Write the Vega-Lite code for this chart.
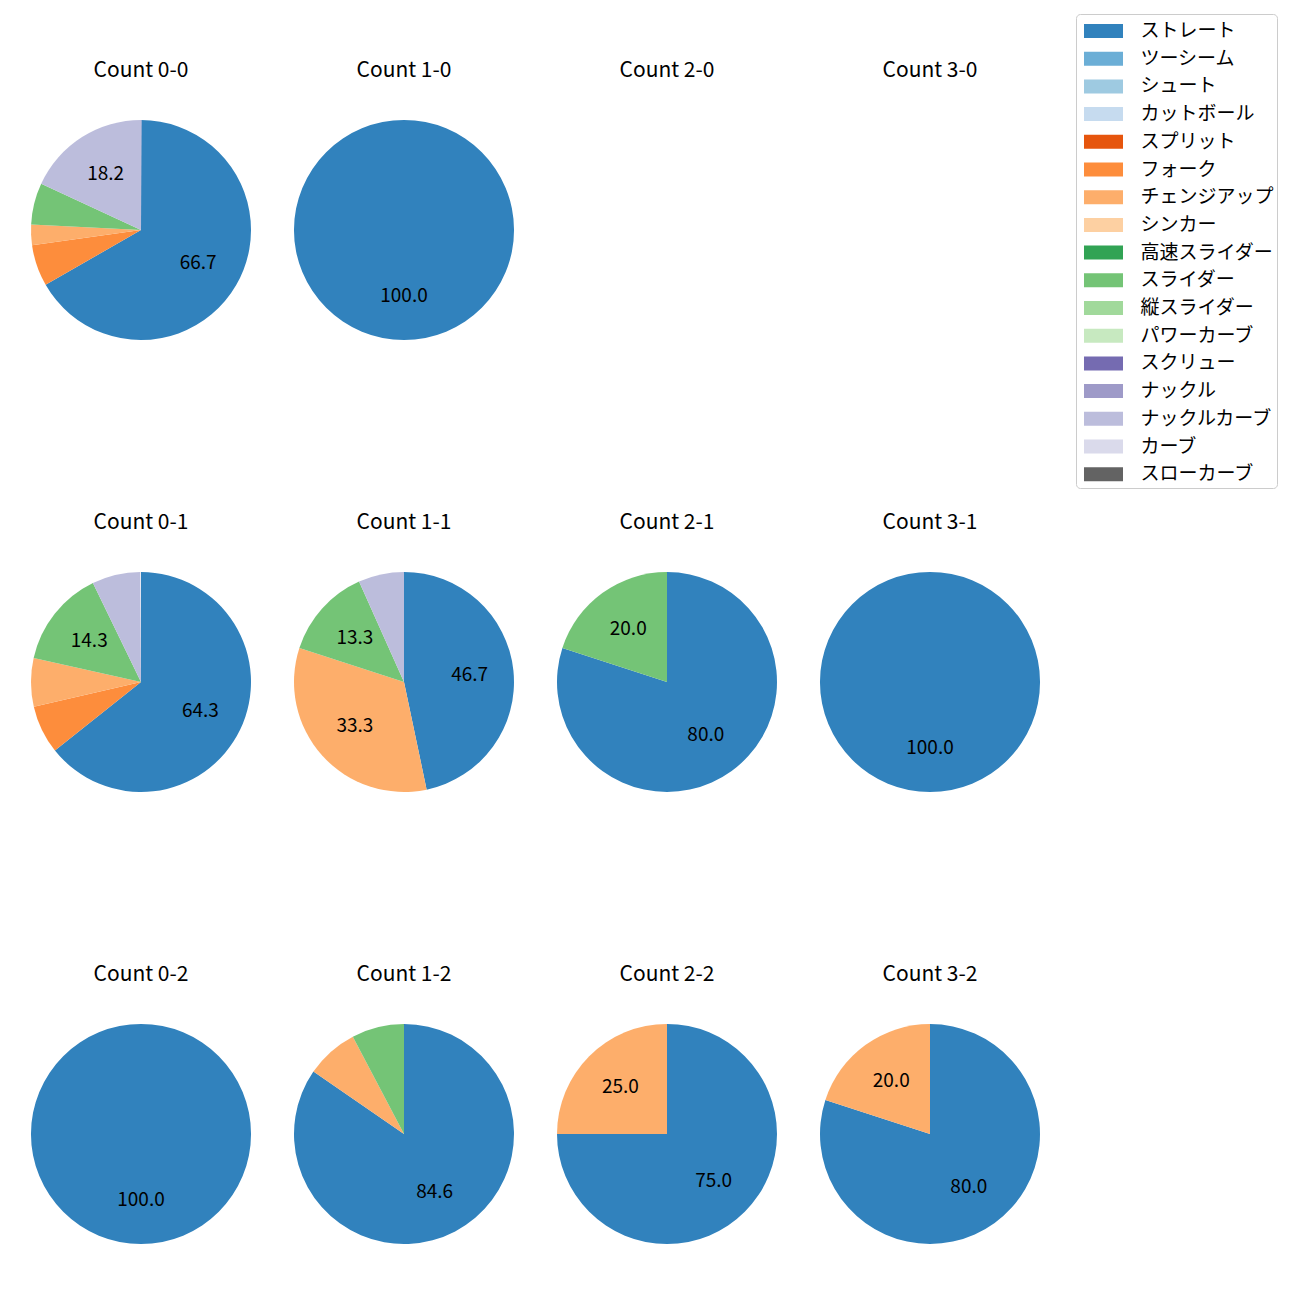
{
  "$schema": "https://vega.github.io/schema/vega-lite/v6.json",
  "padding": {"left": 21, "top": 13, "right": 0, "bottom": 0},
  "autosize": {"type": "pad"},
  "background": "white",
  "config": {"font": "Noto Sans CJK JP", "view": {"stroke": null}},
  "datasets": {
    "pitches": [
      {"pitch": "ストレート", "idx": 0},
      {"pitch": "ツーシーム", "idx": 1},
      {"pitch": "シュート", "idx": 2},
      {"pitch": "カットボール", "idx": 3},
      {"pitch": "スプリット", "idx": 4},
      {"pitch": "フォーク", "idx": 5},
      {"pitch": "チェンジアップ", "idx": 6},
      {"pitch": "シンカー", "idx": 7},
      {"pitch": "高速スライダー", "idx": 8},
      {"pitch": "スライダー", "idx": 9},
      {"pitch": "縦スライダー", "idx": 10},
      {"pitch": "パワーカーブ", "idx": 11},
      {"pitch": "スクリュー", "idx": 12},
      {"pitch": "ナックル", "idx": 13},
      {"pitch": "ナックルカーブ", "idx": 14},
      {"pitch": "カーブ", "idx": 15},
      {"pitch": "スローカーブ", "idx": 16}
    ],
    "counts": [
      {"count": "0-0", "pitch": "ストレート", "pct": 66.7},
      {"count": "0-0", "pitch": "フォーク", "pct": 6.1},
      {"count": "0-0", "pitch": "チェンジアップ", "pct": 3.0},
      {"count": "0-0", "pitch": "スライダー", "pct": 6.1},
      {"count": "0-0", "pitch": "ナックルカーブ", "pct": 18.2},
      {"count": "1-0", "pitch": "ストレート", "pct": 100.0},
      {"count": "2-0", "pitch": "ストレート", "pct": 0},
      {"count": "3-0", "pitch": "ストレート", "pct": 0},
      {"count": "0-1", "pitch": "ストレート", "pct": 64.3},
      {"count": "0-1", "pitch": "フォーク", "pct": 7.1},
      {"count": "0-1", "pitch": "チェンジアップ", "pct": 7.1},
      {"count": "0-1", "pitch": "スライダー", "pct": 14.3},
      {"count": "0-1", "pitch": "ナックルカーブ", "pct": 7.1},
      {"count": "1-1", "pitch": "ストレート", "pct": 46.7},
      {"count": "1-1", "pitch": "チェンジアップ", "pct": 33.3},
      {"count": "1-1", "pitch": "スライダー", "pct": 13.3},
      {"count": "1-1", "pitch": "ナックルカーブ", "pct": 6.7},
      {"count": "2-1", "pitch": "ストレート", "pct": 80.0},
      {"count": "2-1", "pitch": "スライダー", "pct": 20.0},
      {"count": "3-1", "pitch": "ストレート", "pct": 100.0},
      {"count": "0-2", "pitch": "ストレート", "pct": 100.0},
      {"count": "1-2", "pitch": "ストレート", "pct": 84.6},
      {"count": "1-2", "pitch": "チェンジアップ", "pct": 7.7},
      {"count": "1-2", "pitch": "スライダー", "pct": 7.7},
      {"count": "2-2", "pitch": "ストレート", "pct": 75.0},
      {"count": "2-2", "pitch": "チェンジアップ", "pct": 25.0},
      {"count": "3-2", "pitch": "ストレート", "pct": 80.0},
      {"count": "3-2", "pitch": "チェンジアップ", "pct": 20.0}
    ]
  },
  "data": {"name": "counts"},
  "transform": [
    {"lookup": "pitch", "from": {"data": {"name": "pitches"}, "key": "pitch", "fields": ["idx"]}}
  ],
  "facet": {
    "field": "count",
    "type": "nominal",
    "sort": ["0-0", "1-0", "2-0", "3-0", "0-1", "1-1", "2-1", "3-1", "0-2", "1-2", "2-2", "3-2"],
    "header": {"title": null, "labelFontSize": 21, "labelPadding": 10, "labelExpr": "'Count ' + datum.value", "labelOrient": "top", "labelColor": "black", "labelFont": "Noto Sans CJK JP"}
  },
  "columns": 4,
  "spacing": {"column": 23, "row": 143},
  "spec": {
    "width": 240,
    "height": 278,
    "encoding": {
      "theta": {"field": "pct", "type": "quantitative", "stack": true, "scale": {"domain": [0, 100]}},
      "order": {"field": "idx", "type": "quantitative", "sort": "ascending"},
      "color": {
        "field": "pitch",
        "type": "nominal",
        "scale": {
          "domain": ["ストレート", "ツーシーム", "シュート", "カットボール", "スプリット", "フォーク", "チェンジアップ", "シンカー", "高速スライダー", "スライダー", "縦スライダー", "パワーカーブ", "スクリュー", "ナックル", "ナックルカーブ", "カーブ", "スローカーブ"],
          "range": ["#3182bd", "#6baed6", "#9ecae1", "#c6dbef", "#e6550d", "#fd8d3c", "#fdae6b", "#fdd0a2", "#31a354", "#74c476", "#a1d99b", "#c7e9c0", "#756bb1", "#9e9ac8", "#bcbddc", "#dadaeb", "#636363"]
        },
        "legend": {
          "title": null,
          "orient": "none",
          "legendX": 1055,
          "legendY": -77,
          "labelFontSize": 19,
          "labelColor": "black",
          "labelFont": "Noto Sans CJK JP",
          "symbolType": "M-1.393,-0.5L1.393,-0.5L1.393,0.5L-1.393,0.5Z",
          "symbolSize": 784,
          "symbolStrokeWidth": 0,
          "symbolOpacity": 1,
          "symbolOffset": 10.5,
          "rowPadding": 3.7,
          "padding": 3,
          "labelOffset": 23,
          "strokeColor": "#cccccc",
          "fillColor": "white",
          "cornerRadius": 4
        }
      }
    },
    "layer": [
      {"mark": {"type": "arc", "outerRadius": 110}},
      {
        "mark": {"type": "text", "radius": 66, "fill": "black", "fontSize": 19, "font": "Noto Sans CJK JP"},
        "encoding": {
          "text": {"condition": {"test": "datum.pct >= 10", "field": "pct", "type": "quantitative", "format": ".1f"}, "value": ""}
        }
      }
    ]
  }
}
